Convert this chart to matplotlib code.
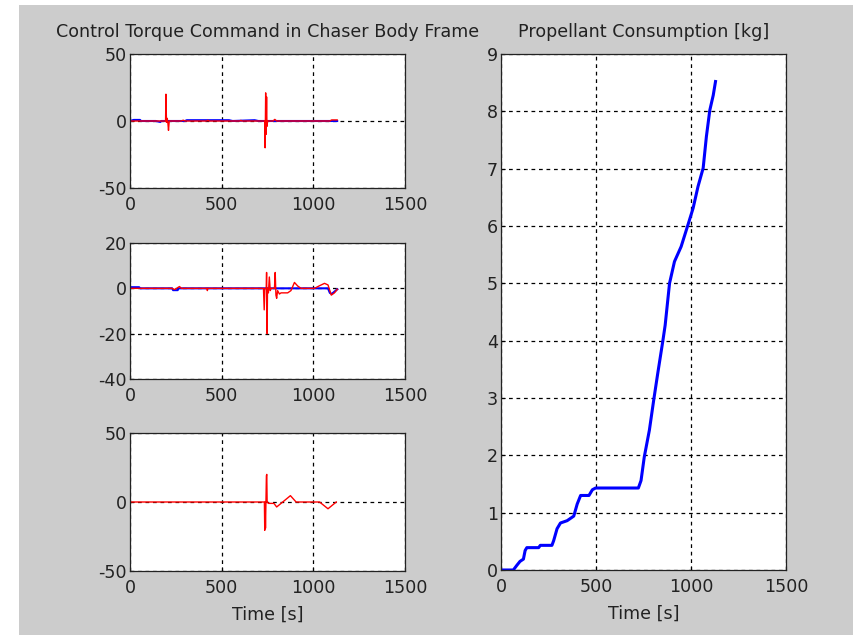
import matplotlib
matplotlib.use("Agg")
import matplotlib.pyplot as plt
from matplotlib.patches import Rectangle

# --- torque command, body x axis [Nm] ---
t1_red = [0, 194, 196, 199, 203, 207, 210, 214, 280, 290, 300, 420, 425, 430, 600, 605, 610,
          735, 737, 740, 742, 745, 747, 750, 753, 780, 790, 800, 900, 1000, 1090, 1100, 1130]
v1_red = [0, 0, 20, -1, 2, -2, -7, 0, 0, 0.6, 0, 0, 0.6, 0, 0, 0.5, 0,
          0, -20, 21, -10, 18, -4, 0, 0, 0, 1.2, 0, 0, 0, 0, 0.8, 0.8]
t1_blue = [0, 20, 55, 60, 140, 165, 170, 300, 310, 540, 560, 680, 700, 1130]
v1_blue = [0, 0.8, 0.8, 0, 0, -0.7, 0, 0, 0.6, 0.6, 0, 0.6, 0, 0]

# --- torque command, body y axis [Nm] ---
t2_red = [0, 230, 240, 250, 260, 270, 280, 420, 422, 424, 728, 732, 736, 743, 745, 748,
          750, 755, 760, 765, 770, 788, 792, 796, 800, 805, 815, 824, 840, 860, 878, 897,
          915, 933, 970, 1007, 1030, 1061, 1080, 1098, 1115, 1131]
v2_red = [0, 0, -0.5, -0.3, 0.3, 0.8, 0, 0, -1, 0, 0, -9.5, 0, 0, 7, -20,
          0, -2, 5, -1, 0, 0, 7, -3, -4.4, -1, -2.5, -2, -2, -2, -1, 2.6,
          1, 0, 0, 0, 1, 2.2, 1.5, -3, -2, -0.4]
t2_blue = [0, 50, 55, 230, 235, 260, 265, 1080, 1090, 1100, 1131]
v2_blue = [0.5, 0.5, 0, 0, -0.8, -0.8, 0, 0, -2, -2.5, -0.4]

# --- torque command, body z axis [Nm] ---
t3_red = [0, 733, 735, 737, 739, 744, 746, 748, 750, 755, 785, 800, 833, 875, 906, 1034,
          1080, 1125]
v3_red = [0, 0, -20.5, 0, -19, 19, 20, 0, 0, -1, -1, -3.6, 0, 4.6, 0, 0,
          -4.9, 0]

# --- propellant consumption [kg] ---
t_prop = [0, 65, 83, 100, 118, 127, 136, 198, 207, 268, 277, 295, 313, 348, 383, 401, 419,
          463, 481, 498, 723, 737, 754, 781, 804, 825, 852, 864, 887, 913, 948, 984, 1011,
          1037, 1064, 1081, 1099, 1117, 1129]
m_prop = [0, 0, 0.08, 0.15, 0.19, 0.34, 0.39, 0.39, 0.43, 0.43, 0.51, 0.72, 0.82, 0.86, 0.94,
          1.15, 1.30, 1.30, 1.40, 1.43, 1.43, 1.56, 1.97, 2.44, 2.97, 3.43, 4.0, 4.27, 5.0,
          5.38, 5.64, 6.02, 6.31, 6.69, 7.01, 7.56, 8.02, 8.28, 8.52]

W, H = 854, 635
bg = "#cccccc"
fs = 12.6
ink = "#222222"
plt.rcParams["font.family"] = "DejaVu Sans"
plt.rcParams["font.size"] = fs
plt.rcParams["axes.unicode_minus"] = False
plt.rcParams["text.color"] = ink
plt.rcParams["axes.labelcolor"] = ink
plt.rcParams["xtick.labelcolor"] = ink
plt.rcParams["ytick.labelcolor"] = ink

fig = plt.figure(figsize=(W / 100, H / 100), dpi=100, facecolor="white")
fig.patches.append(Rectangle((19 / W, 0), 1 - 19 / W, 1 - 5 / H, transform=fig.transFigure,
                             facecolor=bg, edgecolor="none", zorder=-10))


def box(x0, y0, x1, y1):
    return [x0 / W, 1 - y1 / H, (x1 - x0) / W, (y1 - y0) / H]


def style(ax, ylim, yticks):
    ax.set_xlim(0, 1500)
    ax.set_ylim(*ylim)
    ax.set_xticks([0, 500, 1000, 1500])
    ax.set_yticks(yticks)
    ax.grid(True, color="black", linestyle=(0, (3, 3)), linewidth=0.9)
    ax.set_axisbelow(True)
    ax.tick_params(direction="in", length=3, width=0.8)
    ax.tick_params(axis="x", pad=6)
    ax.tick_params(axis="y", pad=2)
    for s in ax.spines.values():
        s.set_linewidth(0.9)
        s.set_color(ink)


ax1 = fig.add_axes(box(130, 54, 405, 188))
ax1.plot(t1_blue, v1_blue, color="blue", lw=1.5)
ax1.plot(t1_red, v1_red, color="red", lw=1.0)
style(ax1, (-50, 50), [-50, 0, 50])
ax1.set_title("Control Torque Command in Chaser Body Frame", fontsize=fs, pad=12)

ax2 = fig.add_axes(box(130, 243, 405, 379))
ax2.plot(t2_blue, v2_blue, color="blue", lw=1.5)
ax2.plot(t2_red, v2_red, color="red", lw=1.0)
style(ax2, (-40, 20), [-40, -20, 0, 20])

ax3 = fig.add_axes(box(130, 433, 405, 571))
ax3.plot(t3_red, v3_red, color="red", lw=1.0)
style(ax3, (-50, 50), [-50, 0, 50])
ax3.set_xlabel("Time [s]", labelpad=6)

ax4 = fig.add_axes(box(501, 54, 786, 570))
ax4.plot(t_prop, m_prop, color="blue", lw=2.2)
style(ax4, (0, 9), range(0, 10))
ax4.set_title("Propellant Consumption [kg]", fontsize=fs, pad=12)
ax4.set_xlabel("Time [s]", labelpad=6)

fig.savefig("out.png", dpi=100, facecolor=fig.get_facecolor())
